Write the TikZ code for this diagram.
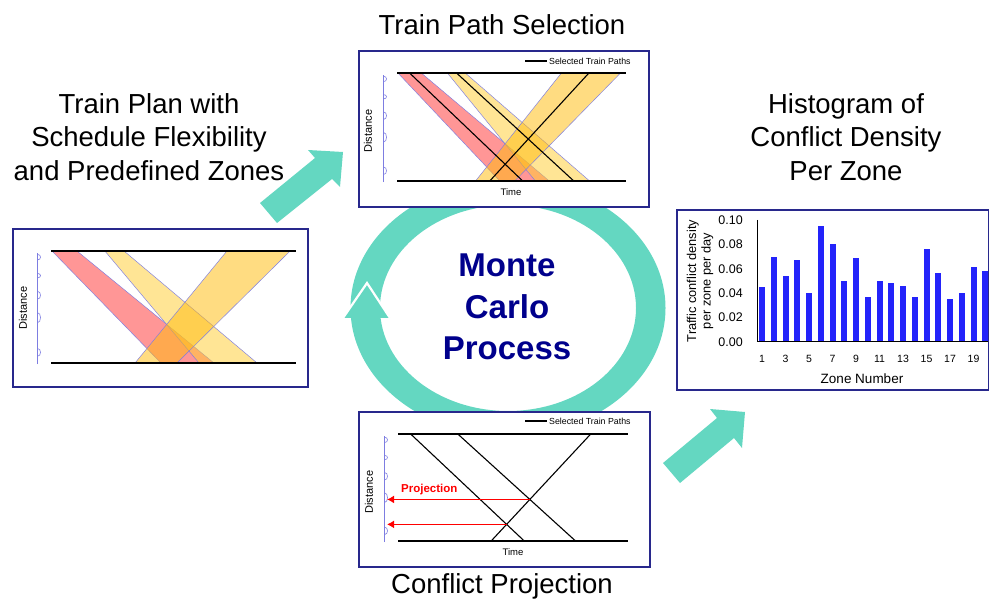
\documentclass[tikz,border=0pt]{standalone}
\usepackage{fontspec}
\setmainfont{Liberation Sans}
\usetikzlibrary{arrows.meta,intersections}
\definecolor{ringteal}{RGB}{100,215,193}
\definecolor{boxblue}{RGB}{40,40,140}
\definecolor{bandred}{RGB}{255,150,150}
\definecolor{bandlight}{RGB}{255,207,53}
\definecolor{bandgold}{RGB}{255,188,15}
\definecolor{bandedge}{RGB}{125,125,225}
\definecolor{navytext}{RGB}{0,0,140}
\definecolor{barblue}{RGB}{35,35,250}
\definecolor{projred}{RGB}{255,0,0}
\newcommand{\fsz}[2]{\fontsize{#1}{#2}\selectfont}
\newcommand{\railsandzones}{%
  \draw[zonebar] ([xshift=-13.5pt]0,-0.01) -- ([xshift=-13.5pt]0,0.98);
  \foreach \za/\zb in {0.92/0.97,0.76/0.80,0.57/0.64,0.36/0.45,0.06/0.13}
    \draw[zonebar] ([xshift=-13.5pt]0,\za) .. controls ([xshift=-9.5pt]0,\za) and ([xshift=-9.5pt]0,\zb) .. ([xshift=-13.5pt]0,\zb);
  \draw[rail] (0,0) -- (1,0);
  \draw[rail] (0,1) -- (1,1);
}
\newcommand{\flexbands}{%
  \filldraw[band, fill=bandred] (0.004,1) -- (0.106,1) -- (0.665,0) -- (0.449,0) -- cycle;
  \filldraw[band, fill=bandlight, fill opacity=0.52] (0.220,1) -- (0.298,1) -- (0.841,0) -- (0.604,0) -- cycle;
  \filldraw[band, fill=bandgold, fill opacity=0.52] (0.718,1) -- (0.976,1) -- (0.514,0) -- (0.343,0) -- cycle;
}
\newcommand{\selpaths}{%
  \draw[trainpath, name path=pA] (0.055,1) -- (0.549,0);
  \draw[trainpath, name path=pB] (0.26,1) -- (0.772,0);
  \draw[trainpath, name path=pC] (0.405,0) -- (0.838,1);
}
\tikzset{
  panel/.style={draw=boxblue, line width=1.4pt, fill=white, rectangle, inner sep=0pt},
  title/.style={align=center, font=\fsz{27.5}{33.5}, inner sep=0pt},
  rail/.style={line width=1.4pt, black},
  trainpath/.style={line width=1.1pt, black},
  band/.style={draw=bandedge, line width=0.45pt},
  zonebar/.style={draw=bandedge, line width=0.6pt},
  axislbl/.style={font=\fsz{11}{12}, rotate=90, inner sep=0pt},
  timelbl/.style={font=\fsz{9.5}{10}, inner sep=0pt},
  legendtxt/.style={font=\fsz{8.8}{9}, anchor=west, inner sep=0pt},
  proj/.style={projred, line width=1.5pt, -{Latex[length=7pt,width=8pt]}},
  bigarrow/.style={fill=ringteal},
}
\begin{document}
\begin{tikzpicture}[x=1pt, y=-1pt]
\useasboundingbox (0,0) rectangle (990,601);
% ring
\fill[ringteal, even odd rule] (508,308) ellipse [x radius=157.5pt, y radius=128pt]
                               (508,308) ellipse [x radius=128pt, y radius=103pt];
\fill[ringteal] (343,318) -- (367,283) -- (390,318) -- cycle;
\draw[white, line width=2.2pt, line join=miter] (343,318) -- (367,283) -- (390,318);
\node[font=\bfseries\fsz{33}{41.5}, text=navytext, align=center] (mc) at (507,307) {Monte\\Carlo\\Process};

% panels
\node[panel, minimum width=295pt, minimum height=158pt] (plan) at (160.5,308) {};
\node[panel, minimum width=290pt, minimum height=156pt] (select) at (504,129) {};
\node[panel, minimum width=291pt, minimum height=155pt] (project) at (504.5,489.5) {};
\node[panel, minimum width=311.5pt, minimum height=180pt] (hist) at (832.75,300) {};

% titles
\node[title] (t1) at (502,25) {Train Path Selection};
\node[title] (t2) at (149,137) {Train Plan with\\Schedule Flexibility\\and Predefined Zones};
\node[title] (t3) at (846,137) {Histogram of\\Conflict Density\\Per Zone};
\node[title] (t4) at (502,586) {Conflict Projection};

% left panel
\begin{scope}[shift={(51,363)}, x=245pt, y=112pt]
  \flexbands
  \railsandzones
\end{scope}
\node[axislbl] (d1) at (23,308) {Distance};

% top panel
\begin{scope}[shift={(397,181)}, x=229pt, y=108pt]
  \flexbands
  \railsandzones
  \selpaths
\end{scope}
\node[axislbl] (d2) at (368,131) {Distance};
\node[timelbl] (tm2) at (511,192) {Time};
\coordinate (lg1) at (525,61);
\coordinate (lg2) at (547,61);
\draw[line width=1.1pt] (lg1) -- (lg2);
\node[legendtxt] (lt1) at (549,61) {Selected Train Paths};

% bottom panel
\begin{scope}[shift={(398,541)}, x=230pt, y=107pt]
  \railsandzones
  \selpaths
  \path[name intersections={of=pB and pC, by=xa}];
  \path[name intersections={of=pA and pC, by=xb}];
  \coordinate (bk) at ([xshift=-11pt]0,0);
\end{scope}
\draw[proj] (xa) -- (xa -| bk);
\draw[proj] (xb) -- (xb -| bk);
\node[font=\bfseries\fsz{11.5}{13}, text=projred, anchor=base west, inner sep=0pt] (pl) at (401,492) {Projection};
\node[axislbl] (d3) at (369,492) {Distance};
\node[timelbl] (tm3) at (513,552) {Time};
\coordinate (lg3) at (525,421);
\coordinate (lg4) at (547,421);
\draw[line width=1.1pt] (lg3) -- (lg4);
\node[legendtxt] (lt2) at (549,421) {Selected Train Paths};

% histogram
\foreach \v [count=\i] in {0.0447,0.070,0.0542,0.0673,0.0403,0.0954,0.080,0.0499,0.0687,0.0368,0.0504,0.0482,0.0455,0.0368,0.076,0.0564,0.0354,0.0403,0.0613,0.0578}
  \fill[barblue] ({762+11.75*(\i-1)-3},342) rectangle ({762+11.75*(\i-1)+3},{342-\v*1220});
\draw[line width=1pt] (757,220) -- (757,342) -- (988,342);
\foreach \yv/\yl in {342/0.00,317.6/0.02,293.2/0.04,268.8/0.06,244.4/0.08,220/0.10}
  \node[font=\fsz{12.5}{13}, anchor=east, inner sep=0pt] at (743,\yv) {\yl};
\foreach \i in {1,3,...,19}
  \node[font=\fsz{10.5}{11}, inner sep=0pt] at ({762+11.75*(\i-1)},359) {\i};
\node[font=\fsz{13.5}{15}, inner sep=0pt] (zn) at (862,379) {Zone Number};
\node[font=\fsz{12.8}{14.5}, rotate=90, align=center, inner sep=0pt] (yl) at (700,281) {Traffic conflict density\\per zone per day};

% big arrows
\fill[bigarrow] (260,203) -- (315,158) -- (308,150) -- (343,152) -- (340,187) -- (332,179) -- (277,223) -- cycle;
\fill[bigarrow] (663,463) -- (717,418) -- (710,409) -- (745,412) -- (742,448) -- (734,438) -- (680,483) -- cycle;
\end{tikzpicture}
\end{document}
